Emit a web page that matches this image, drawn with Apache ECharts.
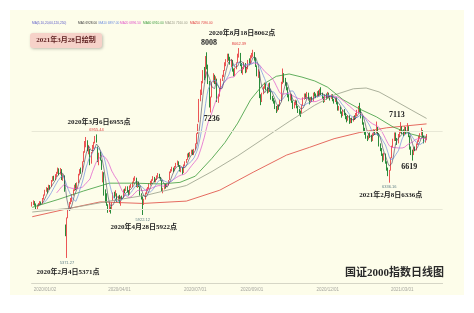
<!DOCTYPE html>
<html><head><meta charset="utf-8">
<script src="https://cdn.jsdelivr.net/npm/echarts@6/dist/echarts.min.js"></script>
<style>html,body{margin:0;padding:0;background:#fff;}#c{width:474px;height:313px;}</style>
</head><body><div id="c"></div>
<script>
// ---------- DATA ----------
const monthDays = [
 ['2019/12','18,19,20,23,24,25,26,27,30,31'],
 ['2020/01','02,03,06,07,08,09,10,13,14,15,16,17,20,21,22,23'],
 ['2020/02','03,04,05,06,07,10,11,12,13,14,17,18,19,20,21,24,25,26,27,28'],
 ['2020/03','02,03,04,05,06,09,10,11,12,13,16,17,18,19,20,23,24,25,26,27,30,31'],
 ['2020/04','01,02,03,07,08,09,10,13,14,15,16,17,20,21,22,23,24,27,28,29,30'],
 ['2020/05','06,07,08,11,12,13,14,15,18,19,20,21,22,25,26,27,28,29'],
 ['2020/06','01,02,03,04,05,08,09,10,11,12,15,16,17,18,19,22,23,24,29,30'],
 ['2020/07','01,02,03,06,07,08,09,10,13,14,15,16,17,20,21,22,23,24,27,28,29,30,31'],
 ['2020/08','03,04,05,06,07,10,11,12,13,14,17,18,19,20,21,24,25,26,27,28,31'],
 ['2020/09','01,02,03,04,07,08,09,10,11,14,15,16,17,18,21,22,23,24,25,28,29,30'],
 ['2020/10','09,12,13,14,15,16,19,20,21,22,23,26,27,28,29,30'],
 ['2020/11','02,03,04,05,06,09,10,11,12,13,16,17,18,19,20,23,24,25,26,27,30'],
 ['2020/12','01,02,03,04,07,08,09,10,11,14,15,16,17,18,21,22,23,24,25,28,29,30,31'],
 ['2021/01','04,05,06,07,08,11,12,13,14,15,18,19,20,21,22,25,26,27,28,29'],
 ['2021/02','01,02,03,04,05,08,09,10,18,19,22,23,24,25,26'],
 ['2021/03','01,02,03,04,05,08,09,10,11,12,15,16,17,18,19,22,23,24,25,26']
];
const tickDates = ['2020/01/02','2020/04/01','2020/07/01','2020/09/01','2020/12/01','2021/03/01'];

// [open, close, low, high]
const candles = [
// 2019/12
[6050,6070,6030,6090],[6070,6090,6050,6110],[6095,6060,6040,6100],[6060,6010,5990,6070],[6005,6040,5995,6050],
[6040,6060,6030,6075],[6065,6080,6050,6100],[6085,6070,6055,6095],[6070,6130,6065,6140],[6130,6170,6120,6185],
// 2020/01
[6180,6230,6170,6245],[6235,6260,6220,6280],[6250,6240,6200,6270],[6245,6300,6240,6310],[6290,6280,6250,6305],
[6290,6360,6285,6370],[6365,6400,6350,6420],[6400,6370,6360,6425],[6375,6430,6370,6445],[6425,6460,6410,6475],
[6465,6500,6450,6530],[6505,6440,6430,6520],[6445,6510,6440,6525],[6500,6380,6370,6510],[6370,6430,6360,6445],
[6420,6230,6220,6430],
// 2020/02
[5760,5690,5650,5800],[5600,5880,5371,5890],[5900,5990,5880,6000],[6000,6080,5990,6090],[6080,6120,6060,6140],
[6100,6180,6090,6190],[6190,6240,6170,6250],[6240,6300,6230,6310],[6310,6260,6240,6330],[6260,6330,6250,6340],
[6340,6440,6330,6450],[6445,6500,6430,6510],[6500,6480,6450,6530],[6480,6600,6470,6610],[6610,6730,6600,6740],
[6740,6850,6720,6870],[6840,6880,6790,6922],[6870,6760,6740,6880],[6740,6800,6700,6820],[6750,6580,6560,6770],
// 2020/03
[6600,6720,6580,6730],[6740,6800,6720,6820],[6790,6850,6770,6860],[6860,6920,6840,6935],[6920,6870,6850,6955],
[6780,6620,6600,6800],[6600,6700,6560,6720],[6710,6640,6620,6730],[6600,6520,6500,6630],[6380,6450,6340,6480],
[6460,6180,6170,6470],[6200,6150,6080,6250],[6160,6060,6040,6200],[6040,5980,5950,6060],[6000,6050,5960,6080],
[6000,5960,5940,6030],[6000,6070,5990,6090],[6110,6200,6100,6210],[6190,6170,6140,6220],[6180,6220,6160,6240],
[6180,6110,6090,6200],[6120,6160,6100,6170],
// 2020/04
[6160,6080,6070,6180],[6070,6150,6040,6160],[6150,6130,6110,6170],[6150,6240,6140,6250],[6240,6230,6200,6260],
[6240,6280,6230,6290],[6280,6220,6210,6290],[6220,6190,6170,6240],[6190,6290,6180,6300],[6290,6300,6270,6320],
[6300,6340,6280,6350],[6340,6380,6330,6400],[6380,6400,6360,6420],[6390,6300,6280,6400],[6290,6330,6270,6340],
[6330,6290,6280,6350],[6280,6180,6170,6290],[6180,6160,6120,6200],[6150,6060,5922,6160],[6070,6120,6050,6130],
[6130,6200,6120,6210],
// 2020/05
[6210,6250,6190,6260],[6250,6260,6230,6280],[6260,6320,6250,6330],[6320,6340,6300,6360],[6340,6370,6320,6380],
[6370,6400,6360,6420],[6400,6360,6340,6410],[6360,6380,6340,6390],[6380,6420,6370,6430],[6420,6440,6400,6460],
[6440,6400,6390,6450],[6400,6380,6360,6410],[6360,6240,6230,6370],[6240,6250,6200,6270],[6260,6300,6250,6310],
[6300,6290,6260,6320],[6290,6310,6280,6320],[6310,6360,6300,6370],
// 2020/06
[6380,6470,6370,6480],[6470,6500,6460,6510],[6500,6520,6480,6540],[6520,6500,6470,6530],[6500,6540,6490,6550],
[6540,6580,6530,6590],[6580,6600,6560,6620],[6600,6560,6540,6610],[6550,6500,6480,6560],[6490,6530,6470,6540],
[6520,6460,6440,6530],[6470,6560,6460,6570],[6560,6600,6550,6610],[6600,6630,6590,6640],[6640,6700,6630,6710],
[6700,6680,6660,6720],[6680,6720,6670,6730],[6720,6740,6700,6760],[6740,6700,6690,6760],[6700,6760,6690,6770],
// 2020/07
[6770,6830,6760,6840],[6840,6960,6830,6970],[6970,7080,6960,7090],[7120,7400,7110,7410],[7420,7480,7380,7530],
[7480,7620,7460,7640],[7630,7760,7610,7780],[7770,7700,7650,7820],[7700,7900,7680,7960],[7900,7820,7790,8008],
[7810,7620,7600,7850],[7620,7330,7300,7640],[7320,7420,7236,7440],[7440,7620,7430,7630],[7640,7700,7620,7740],
[7690,7640,7600,7720],[7640,7680,7600,7700],[7660,7400,7370,7670],[7400,7440,7360,7470],[7450,7540,7440,7550],
[7540,7660,7530,7670],[7660,7700,7640,7720],[7700,7760,7690,7780],
// 2020/08
[7780,7860,7770,7880],[7860,7900,7830,7920],[7900,7960,7880,7990],[7960,7940,7900,7990],[7940,7880,7850,7950],
[7870,7900,7820,7920],[7900,7780,7760,7910],[7770,7720,7700,7800],[7720,7800,7700,7810],[7800,7870,7790,7880],
[7880,7980,7870,7990],[7970,7990,7940,8062],[7980,7850,7830,8000],[7850,7760,7740,7870],[7760,7800,7720,7820],
[7800,7870,7790,7880],[7860,7760,7740,7870],[7760,7800,7750,7820],[7800,7900,7790,7910],[7900,7880,7850,7930],
[7880,7960,7870,7970],
// 2020/09
[7960,7980,7930,8000],[7980,8000,7950,8040],[8000,7920,7900,8010],[7920,7840,7820,7940],[7820,7720,7700,7840],
[7720,7760,7680,7790],[7750,7430,7420,7760],[7430,7380,7330,7470],[7390,7480,7370,7490],[7480,7560,7470,7570],
[7560,7600,7540,7620],[7600,7540,7520,7610],[7540,7500,7480,7560],[7500,7600,7490,7610],[7600,7520,7500,7620],
[7510,7420,7400,7530],[7420,7400,7380,7450],[7400,7380,7350,7420],[7380,7300,7280,7390],[7290,7260,7230,7320],
[7260,7320,7250,7330],[7320,7290,7270,7340],
// 2020/10
[7330,7380,7320,7400],[7390,7620,7380,7630],[7620,7700,7600,7800],[7700,7660,7620,7740],[7660,7600,7580,7680],
[7600,7560,7520,7620],[7550,7440,7430,7560],[7440,7400,7380,7470],[7400,7460,7390,7480],[7460,7380,7360,7470],
[7380,7300,7280,7390],[7300,7360,7290,7370],[7360,7380,7330,7400],[7380,7300,7290,7390],[7300,7260,7230,7320],
[7260,7240,7200,7280],
// 2020/11
[7230,7220,7180,7260],[7230,7330,7220,7340],[7330,7420,7320,7430],[7420,7460,7400,7480],[7460,7440,7410,7480],
[7440,7480,7420,7500],[7480,7400,7390,7490],[7400,7370,7340,7420],[7370,7420,7360,7430],[7420,7390,7370,7440],
[7390,7480,7380,7490],[7480,7470,7440,7500],[7470,7440,7420,7480],[7440,7500,7430,7510],[7500,7460,7440,7520],
[7460,7520,7450,7540],[7520,7480,7460,7560],[7480,7430,7410,7490],[7430,7380,7360,7440],[7380,7460,7370,7470],
[7460,7420,7400,7480],
// 2020/12
[7420,7480,7410,7500],[7480,7440,7420,7490],[7440,7420,7390,7450],[7420,7460,7410,7470],[7460,7400,7380,7470],
[7400,7380,7350,7410],[7380,7420,7370,7430],[7420,7360,7340,7430],[7350,7280,7260,7370],[7280,7300,7260,7320],
[7300,7240,7220,7310],[7240,7200,7170,7250],[7200,7260,7190,7270],[7260,7220,7200,7280],[7220,7180,7150,7230],
[7180,7140,7110,7190],[7140,7190,7130,7200],[7190,7110,7090,7200],[7110,7150,7100,7160],[7150,7130,7100,7170],
[7130,7180,7120,7190],[7180,7160,7140,7200],[7160,7220,7150,7230],
// 2021/01
[7230,7250,7190,7270],[7250,7300,7230,7320],[7300,7280,7240,7360],[7280,7180,7160,7290],[7180,7100,7080,7190],
[7100,7020,7000,7110],[7020,6980,6950,7040],[6980,6920,6900,7000],[6920,6900,6870,6940],[6900,6960,6890,6970],
[6960,6940,6910,6980],[6940,6880,6860,6950],[6880,6960,6870,6970],[6960,7000,6940,7020],[7000,6980,6950,7010],
[6980,7040,6970,7120],[7040,6960,6940,7050],[6960,6820,6800,6970],[6820,6760,6740,6840],[6760,6700,6680,6780],
// 2021/02
[6690,6640,6600,6710],[6640,6700,6620,6720],[6700,6600,6580,6710],[6600,6520,6490,6610],[6520,6460,6420,6530],
[6440,6480,6336,6500],[6500,6650,6490,6660],[6660,6800,6650,6810],[6800,6880,6790,6900],[6880,6960,6870,6980],
[6960,6900,6870,6980],[6900,6850,6820,6910],[6850,6940,6840,6960],[6940,6980,6920,7020],[6990,7020,6970,7113],
// 2021/03
[7010,7000,6960,7060],[7000,6960,6930,7020],[6960,7040,6950,7060],[7040,6980,6960,7050],[6990,7060,6980,7100],
[7050,6940,6920,7060],[6930,6780,6760,6940],[6780,6720,6690,6800],[6730,6700,6619,6760],[6700,6780,6690,6790],
[6780,6760,6740,6800],[6760,6830,6750,6840],[6830,6870,6820,6880],[6870,6920,6860,6940],[6920,6950,6900,6970],
[6950,7010,6940,7040],[7000,6930,6910,7010],[6930,6860,6840,6940],[6860,6900,6850,6920],[6900,6940,6880,6960]
];

// long moving averages: [trading-day index, value]
const ma60Pts = [[0,6020],[20,6120],[40,6230],[60,6330],[80,6330],[100,6320],[115,6340],[127,6420],[140,6650],[150,6850],[160,7100],[170,7400],[180,7600],[190,7700],[200,7730],[210,7690],[220,7640],[230,7560],[242,7400],[255,7280],[268,7180],[281,7050],[295,6960],[307,6910]];
const ma120Pts = [[0,5960],[30,6010],[60,6100],[90,6180],[120,6300],[140,6480],[160,6680],[180,6900],[200,7120],[220,7330],[235,7460],[250,7540],[260,7550],[270,7500],[281,7400],[295,7270],[307,7160]];
const ma250Pts = [[0,5900],[27,6000],[53,6090],[86,6070],[120,6100],[146,6240],[172,6470],[198,6690],[216,6790],[235,6900],[255,6980],[276,7040],[307,7090]];

// annotations: [date, value, text]
const bigNotes = [
 ['2020/03/06',6955,'2020年3月6日6955点'],
 ['2020/08/18',8062,'2020年8月18日8062点'],
 ['2020/07/14',8008,'8008'],
 ['2020/07/17',7236,'7236'],
 ['2021/02/26',7113,'7113'],
 ['2021/03/10',6619,'6619'],
 ['2021/02/08',6336,'2021年2月8日6336点'],
 ['2020/04/28',5922,'2020年4月28日5922点'],
 ['2020/02/04',5371,'2020年2月4日5371点']
];
const highMarks = [['2020/03/06',6955.44],['2020/08/18',8062.39]];
const lowMarks = [['2020/02/04',5371.27],['2020/04/28',5922.12],['2021/02/08',6336.16]];
const titleText = '国证2000指数日线图';
const drawnText = '2021年3月28日绘制';

// ---------- BUILD ----------
const dates = [];
monthDays.forEach(([ym, ds]) => ds.split(',').forEach(d => dates.push(ym + '/' + d)));
const axisCats = dates.concat(Array.from({length: 12}, (_, k) => ' '.repeat(k + 1)));
const closes = candles.map(c => c[1]);
function ma(n) {
  return closes.map((_, i) => i < n - 1 ? '-' :
    +(closes.slice(i - n + 1, i + 1).reduce((a, b) => a + b, 0) / n).toFixed(2));
}
const ma5 = ma(5), ma10 = ma(10), ma20 = ma(20);
const last = a => a[a.length - 1];

const C = {ma5:'#3c3c5a', ma10:'#6f8fe0', ma20:'#e050c8', ma60:'#3a9a3a', ma120:'#a3a893', ma250:'#e25a50'};
const noteOffsets = [[2.5,-12.5],[3,-15],[2,-9],[1,6],[-4,-7],[-2,6],[1.5,12],[1,12],[1,14]];
const noteSizes = [7,7,8,8,8,8,7,7,7];
const serif = '"Liberation Serif","Noto Sans CJK SC",serif';

const markData = [];
bigNotes.forEach((n, k) => markData.push({
  coord: [n[0], n[1]], symbol: 'circle', symbolSize: 0,
  label: {show: true, position: 'inside', offset: noteOffsets[k], formatter: n[2],
    fontSize: noteSizes[k], fontWeight: 'bold', fontFamily: serif, color: '#222'}
}));
highMarks.forEach(m => markData.push({
  coord: [m[0], m[1]], symbol: 'circle', symbolSize: 0,
  label: {show: true, position: 'inside', offset: [0, -4.5], formatter: m[1].toFixed(2),
    fontSize: 4, fontFamily: 'Liberation Sans', color: '#e03a3a'}
}));
lowMarks.forEach(m => markData.push({
  coord: [m[0], m[1]], symbol: 'circle', symbolSize: 0,
  label: {show: true, position: 'inside', offset: [0, 4.5], formatter: m[1].toFixed(2),
    fontSize: 4, fontFamily: 'Liberation Sans', color: '#5f7f86'}
}));

function lineS(name, data, color, w) {
  return {name, type: 'line', data, showSymbol: false, symbol: 'none', smooth: false,
    lineStyle: {color, width: w}, connectNulls: true, silent: true, z: 3};
}

const legendItems = [
  ['MA(5,10,20,60,120,250)', '#5a5ac8', 32],
  ['MA5 ' + last(ma5).toFixed(2), '#333', 78],
  ['MA10 ' + last(ma10).toFixed(2), C.ma10, 98.5],
  ['MA20 ' + last(ma20).toFixed(2), C.ma20, 120],
  ['MA60 ' + last(ma60Pts)[1].toFixed(2), C.ma60, 143],
  ['MA120 ' + last(ma120Pts)[1].toFixed(2), '#9a9a88', 165],
  ['MA250 ' + last(ma250Pts)[1].toFixed(2), '#e03a3a', 190]
];

const graphics = [
  {type: 'rect', shape: {x: 10, y: 10, width: 454, height: 285}, style: {fill: '#fdfdea'}, z: -10, silent: true},
  {type: 'rect', shape: {x: 30, y: 33, width: 72, height: 15, r: 3},
   style: {fill: '#f6d2c9', shadowBlur: 3, shadowColor: 'rgba(0,0,0,0.25)', shadowOffsetX: 1, shadowOffsetY: 1}, z: 5},
  {type: 'text', x: 66, y: 40.5, style: {text: drawnText, fill: '#5a1c1c', fontSize: 7, fontWeight: 'bold',
   fontFamily: serif, align: 'center', verticalAlign: 'middle'}, z: 6},
  {type: 'text', x: 444, y: 273, style: {text: titleText, fill: '#2a2a2a', fontSize: 11, fontWeight: 'bold',
   fontFamily: serif, align: 'right', verticalAlign: 'middle'}, z: 6}
];
legendItems.forEach(it => graphics.push({type: 'text', x: it[2], y: 23,
  style: {text: it[0], fill: it[1], fontSize: 3.2, fontFamily: 'Liberation Sans', verticalAlign: 'middle'}, z: 6}));

const chart = echarts.init(document.getElementById('c'), null, {renderer: 'canvas'});
chart.setOption({
  animation: false,
  backgroundColor: '#ffffff',
  grid: {left: 31.6, width: 411, top: 20, height: 263},
  xAxis: {
    type: 'category', data: axisCats, boundaryGap: true,
    axisLine: {lineStyle: {color: '#d6d6c6', width: 1}},
    axisTick: {show: false},
    axisLabel: {interval: (i, v) => tickDates.includes(v), fontSize: 4.5, color: '#a8a8a0', margin: 4,
      fontFamily: 'Liberation Sans'},
    splitLine: {show: false}
  },
  yAxis: {type: 'value', min: 5050, max: 8422, show: true, axisLine: {show: false}, axisTick: {show: false},
    axisLabel: {show: false}, splitLine: {show: false}},
  graphic: graphics,
  series: [
    Object.assign(lineS('MA250', ma250Pts, C.ma250, 0.9), {
      markLine: {silent: true, symbol: ['none', 'none'], label: {show: false},
        lineStyle: {color: '#e8e8d6', width: 1, type: 'solid'},
        data: [{yAxis: 6000}, {yAxis: 7000}]}, z: 1}),
    lineS('MA120', ma120Pts, C.ma120, 0.9),
    lineS('MA60', ma60Pts, C.ma60, 0.8),
    {
      name: 'K', type: 'candlestick', data: candles, barWidth: '75%', z: 2,
      itemStyle: {color: '#f28a8a', color0: '#2b8c3c', borderColor: '#ec5656', borderColor0: '#2b8c3c', borderWidth: 1},
      markPoint: {data: markData, silent: true, animation: false}
    },
    lineS('MA20', ma20, C.ma20, 0.7),
    lineS('MA10', ma10, C.ma10, 0.7),
    lineS('MA5', ma5, C.ma5, 0.6)
  ]
});
</script></body></html>
